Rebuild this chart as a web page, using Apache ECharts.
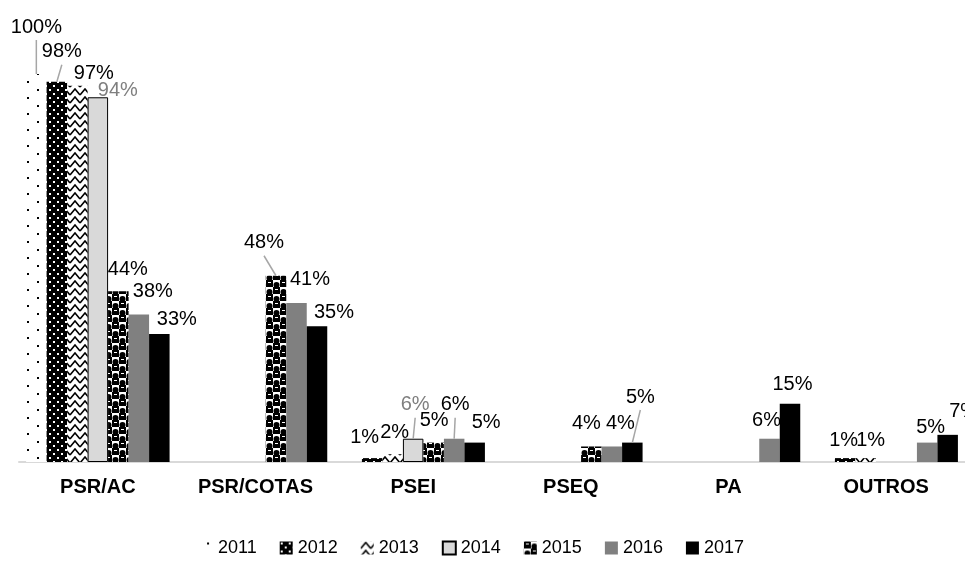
<!DOCTYPE html>
<html>
<head>
<meta charset="utf-8">
<script src="https://cdn.jsdelivr.net/npm/echarts@6/dist/echarts.min.js"></script>
<style>
  html, body { margin: 0; padding: 0; background: #fff; }
  #chart { width: 965px; height: 561px; }
</style>
</head>
<body>
<div id="chart"></div>
<script>
var categories = ["PSR/AC", "PSR/COTAS", "PSEI", "PSEQ", "PA", "OUTROS"];
var years = ["2011", "2012", "2013", "2014", "2015", "2016", "2017"];

var v2011 = [100, "-", "-", "-", "-", "-"];
var v2012 = [98, "-", 1, "-", "-", 1];
var v2013 = [97, "-", 2, "-", "-", 1];
var v2014 = [94, "-", 6, "-", "-", "-"];
var v2015 = [44, 48, 5, 4, "-", "-"];
var v2016 = [38, 41, 6, 4, 6, 5];
var v2017 = [33, 35, 5, 5, 15, 7];
var values = [v2011, v2012, v2013, v2014, v2015, v2016, v2017];

// label nudges [dx, dy] from the default "top" spot, per category
var nudges = [
  [[0, -32]],
  [[5, -15], null, [-7.5, -6], null, null, [-1.5, -3]],
  [[16.5, 3], null, [2, -7], null, null, [5, -3]],
  [[20, 8], null, [2, -19]],
  [[9.5, -7], [-12, -18], [0.5, -7.6], [-5, -7.5]],
  [[14, -8], [13.5, -8], [1, -19], [8.5, -7.5], [-3, -3.7], [3.5, 0]],
  [[17.5, 1], [17, 1], [11.5, -5.6], [8, -30.6], [2.5, -4.8], [16, -8]]
];
// labels that get a grey leader line: [seriesIndex, categoryIndex]
var leaders = [[0, 0], [1, 0], [4, 1], [3, 2], [5, 2], [6, 3]];

var FONT = 'Arial, "Liberation Sans", sans-serif';
var LABEL_DIST = 5;

function makeTile(w, h, draw) {
  var c = document.createElement("canvas");
  c.width = w; c.height = h;
  var ctx = c.getContext("2d");
  draw(ctx);
  return { image: c, repeat: "repeat" };
}

var pat2011 = makeTile(20, 16, function (ctx) {
  ctx.fillStyle = "#fff"; ctx.fillRect(0, 0, 20, 16);
  ctx.fillStyle = "#000";
  ctx.fillRect(7, 1, 2, 2);
  ctx.fillRect(17, 9, 2, 2);
});
var pat2012 = makeTile(8, 8, function (ctx) {
  ctx.fillStyle = "#000"; ctx.fillRect(0, 0, 8, 8);
  ctx.fillStyle = "#fff";
  ctx.fillRect(1, 1, 2, 2);
  ctx.fillRect(5, 5, 2, 2);
});
var pat2013 = makeTile(10, 8, function (ctx) {
  ctx.fillStyle = "#fff"; ctx.fillRect(0, 0, 10, 8);
  ctx.strokeStyle = "#000"; ctx.lineWidth = 1.6;
  ctx.beginPath();
  ctx.moveTo(0, 7); ctx.lineTo(5, 1); ctx.lineTo(10, 7);
  ctx.stroke();
});
var pat2015 = makeTile(14, 14, function (ctx) {
  ctx.fillStyle = "#fff"; ctx.fillRect(0, 0, 14, 14);
  ctx.fillStyle = "#000";
  ctx.fillRect(0, 0, 7, 7);
  ctx.fillRect(7, 7, 7, 7);
  ctx.beginPath(); ctx.arc(10.5, 5, 3, 0, Math.PI * 2); ctx.fill();
  ctx.beginPath(); ctx.arc(3.5, 12, 3, 0, Math.PI * 2); ctx.fill();
  ctx.fillStyle = "#fff";
  ctx.fillRect(2, 2, 3, 1);
  ctx.fillRect(9, 9, 3, 1);
});

var seriesStyle = [
  { color: pat2011, labelColor: "#000" },
  { color: pat2012, labelColor: "#000" },
  { color: pat2013, labelColor: "#000" },
  { color: "#d9d9d9", borderColor: "#000", borderWidth: 1, labelColor: "#7f7f7f" },
  { color: pat2015, labelColor: "#000" },
  { color: "#808080", labelColor: "#000" },
  { color: "#000000", labelColor: "#000" }
];

function nudgeOf(s, i) {
  return (nudges[s] && nudges[s][i]) || [0, 0];
}

var series = years.map(function (year, s) {
  var st = seriesStyle[s];
  return {
    name: year,
    type: "bar",
    barWidth: 20.5,
    barGap: "0%",
    itemStyle: {
      color: st.color,
      borderColor: st.borderColor || null,
      borderWidth: st.borderWidth || 0
    },
    label: {
      show: true,
      position: "top",
      distance: LABEL_DIST,
      formatter: "{c}%",
      fontFamily: FONT,
      fontSize: 20,
      color: st.labelColor
    },
    data: values[s].map(function (v, i) {
      if (v === "-") return v;
      return { value: v, label: { offset: nudgeOf(s, i) } };
    })
  };
});

var chartDom = document.getElementById("chart");
var myChart = echarts.init(chartDom);
var option = {
  animation: false,
  backgroundColor: "#fff",
  grid: { left: 19, width: 951, top: 74, height: 388 },
  legend: {
    data: years,
    icon: "rect",
    left: 195,
    top: 534,
    itemWidth: 13,
    itemHeight: 13,
    itemGap: 23,
    textStyle: { fontFamily: FONT, fontSize: 18, color: "#000" }
  },
  xAxis: {
    type: "category",
    data: categories,
    axisLine: { lineStyle: { color: "#d9d9d9", width: 2 } },
    axisTick: { show: false },
    axisLabel: {
      margin: 15,
      fontFamily: FONT,
      fontSize: 20,
      fontWeight: "bold",
      color: "#000"
    }
  },
  yAxis: {
    type: "value",
    min: 0,
    max: 100,
    show: false,
    splitLine: { show: false }
  },
  series: series
};

option && myChart.setOption(option);

// leader lines: from the label's bottom to the top of its bar, using the bar layout
var lines = leaders.map(function (p) {
  var s = p[0], i = p[1];
  var lay = myChart.getModel().getSeriesByIndex(s).getData().getItemLayout(i);
  var cx = lay.x + lay.width / 2;
  var top = Math.min(lay.y, lay.y + lay.height);
  var n = nudgeOf(s, i);
  return {
    type: "polyline",
    z: 10,
    shape: { points: [[cx + n[0], top - LABEL_DIST + n[1] + 3], [cx, top]] },
    style: { stroke: "#a6a6a6", lineWidth: 1.5, fill: null }
  };
});
myChart.setOption({ graphic: lines });
</script>
</body>
</html>
